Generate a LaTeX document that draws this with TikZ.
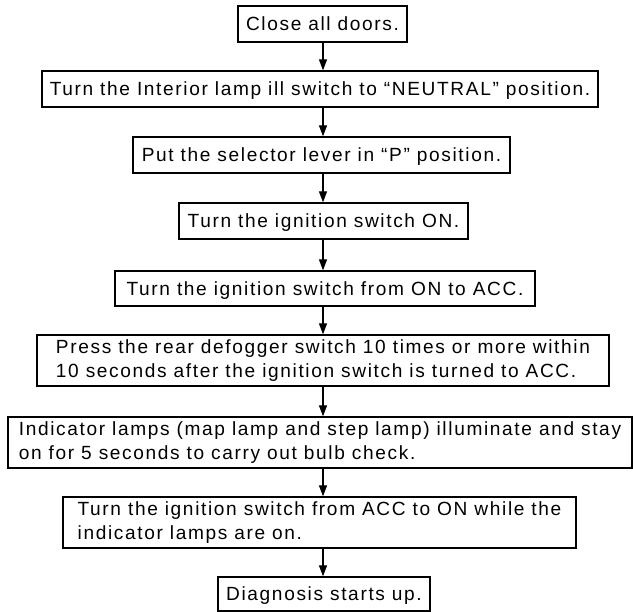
\documentclass[tikz,border=0pt]{standalone}
\usepackage{fontspec}
\setmainfont{Liberation Sans}[LetterSpace=8.6]
\usetikzlibrary{arrows.meta}
\begin{document}
\begin{tikzpicture}[x=1pt,y=-1pt,
  box/.style={draw, line width=1.3pt, inner sep=0pt, font=\fontsize{19.1pt}{24pt}\selectfont},
  single/.style={box, text height=13.7pt, text depth=0pt},
  multi/.style={box, align=left},
  arr/.style={line width=1.3pt, -{Triangle[length=11pt,width=8pt]}}]
\useasboundingbox (0,0) rectangle (633,612);
\coordinate (ax) at (323,0);
\node[single, minimum width=169pt, minimum height=36pt] (b1) at (322.5,24) {Close all doors.};
\node[single, minimum width=556pt, minimum height=36pt] (b2) at (320,89) {Turn the Interior lamp ill switch to “NEUTRAL” position.};
\node[single, minimum width=377pt, minimum height=36pt] (b3) at (321.5,155) {Put the selector lever in “P” position.};
\node[single, minimum width=289pt, minimum height=36pt] (b4) at (323.5,221) {Turn the ignition switch ON.};
\node[single, minimum width=420pt, minimum height=35pt] (b5) at (325,288.5) {Turn the ignition switch from ON to ACC.};
\node[multi, minimum width=572pt, minimum height=51pt] (b6) at (323,360.5) {Press the rear defogger switch 10 times or more within\\10 seconds after the ignition switch is turned to ACC.};
\node[multi, minimum width=624pt, minimum height=51pt] (b7) at (320,442.5) {Indicator lamps (map lamp and step lamp) illuminate and stay\\on for 5 seconds to carry out bulb check.};
\node[multi, minimum width=513pt, minimum height=51pt] (b8) at (319.5,522.5) {Turn the ignition switch from ACC to ON while the\\indicator lamps are on.};
\node[single, minimum width=212pt, minimum height=34pt] (b9) at (324,594) {Diagnosis starts up.};
\foreach \a/\b in {b1/b2,b2/b3,b3/b4,b4/b5,b5/b6,b6/b7,b7/b8,b8/b9}
  \draw[arr] (\a.south -| ax) -- (\b.north -| ax);
\end{tikzpicture}
\end{document}
